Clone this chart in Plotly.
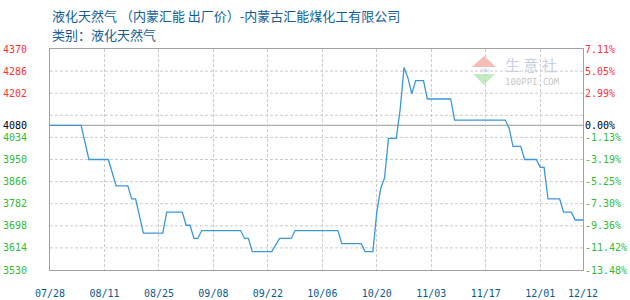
import datetime as dt
import plotly.graph_objects as go

# ---- data ----
start = dt.date(2023, 7, 28)
day_offsets = [0, 8, 10, 15, 17, 20, 21, 22, 24, 29, 30, 34, 35, 36, 37, 38, 39,
               49, 50, 51, 52, 57, 59, 62, 63, 74, 75, 80, 81, 83, 84, 85, 86, 87,
               89, 90, 91, 92, 93, 94, 96, 97, 103, 104, 117, 118, 119, 121, 122,
               125, 126, 127, 128, 131, 132, 134, 135, 137]
prices = [4080, 4080, 3950, 3950, 3850, 3850, 3800, 3800, 3670, 3670, 3750, 3750,
          3700, 3700, 3650, 3650, 3680, 3680, 3650, 3650, 3600, 3600, 3650, 3650,
          3680, 3680, 3630, 3630, 3600, 3600, 3750, 3840, 3880, 4030, 4030, 4140,
          4300, 4260, 4200, 4250, 4250, 4180, 4180, 4100, 4100, 4070, 4000, 4000,
          3950, 3950, 3920, 3920, 3800, 3800, 3750, 3750, 3720, 3720]
dates = [start + dt.timedelta(days=d) for d in day_offsets]

base_price = 4080
y_grid = [3530, 3614, 3698, 3782, 3866, 3950, 4034, 4118, 4202, 4286, 4370]
y_labels = [3530, 3614, 3698, 3782, 3866, 3950, 4034, 4080, 4202, 4286, 4370]
x_tick_offsets = [0, 14, 28, 42, 56, 70, 84, 98, 112, 126, 137]
x_ticks = [start + dt.timedelta(days=d) for d in x_tick_offsets]
x_ticktext = [d.strftime("%m/%d") for d in x_ticks]

title = "液化天然气 （内蒙汇能 出厂价）-内蒙古汇能煤化工有限公司"
subtitle = "类别：液化天然气"

RED, GREEN, BLACK = "#ff3333", "#33bb33", "#000000"


def colour(v):
    if v > base_price:
        return RED
    if v < base_price:
        return GREEN
    return BLACK


left_text = [f'<span style="color:{colour(v)}">{v}</span>' for v in y_labels]
right_text = [f'<span style="color:{colour(v)}">{(v / base_price - 1) * 100:.2f}%</span>'
              for v in y_labels]

fig = go.Figure()
fig.add_trace(go.Scatter(x=dates, y=prices, mode="lines",
                         line=dict(color="#3a98d8", width=1.3),
                         hoverinfo="skip", showlegend=False))
fig.add_trace(go.Scatter(x=dates, y=prices, mode="lines", yaxis="y2",
                         line=dict(color="rgba(0,0,0,0)", width=0),
                         hoverinfo="skip", showlegend=False))

mono = "DejaVu Sans Mono"
fig.update_layout(
    width=630, height=300,
    margin=dict(l=50, r=47, t=49, b=30, autoexpand=False),
    paper_bgcolor="white", plot_bgcolor="white",
    xaxis=dict(range=[x_ticks[0], x_ticks[-1]], tickvals=x_ticks, ticktext=x_ticktext,
               tickfont=dict(family=mono, size=10, color="#0a5a8c"),
               showgrid=True, gridcolor="#cccccc", griddash="3px,2px", gridwidth=1,
               showline=True, linecolor="#a0a0a0", linewidth=1, mirror=True,
               ticks="", ticklabelstandoff=14, zeroline=False, automargin=False),
    yaxis=dict(range=[3530, 4370], tickvals=y_labels, ticktext=left_text,
               tickfont=dict(family=mono, size=10),
               showgrid=False, showline=True, linecolor="#a0a0a0", linewidth=1,
               mirror=True, ticks="", ticklabelstandoff=20, zeroline=False,
               automargin=False),
    yaxis2=dict(range=[3530, 4370], overlaying="y", side="right",
                tickvals=y_labels, ticktext=right_text,
                tickfont=dict(family=mono, size=10),
                showgrid=False, showline=False, ticks="", ticklabelstandoff=1,
                zeroline=False, automargin=False),
)

# horizontal dashed gridlines
for v in y_grid[1:-1]:
    fig.add_shape(type="line", xref="paper", x0=0, x1=1, yref="y", y0=v, y1=v,
                  line=dict(color="#cccccc", width=1, dash="3px,2px"), layer="below")
# base price line
fig.add_shape(type="line", xref="paper", x0=0, x1=1, yref="y", y0=base_price, y1=base_price,
              line=dict(color="#999999", width=1), layer="below")

# titles
PH = 221.0
fig.add_annotation(text=title, xref="paper", yref="paper", x=0, y=1 + (49 - 15) / PH,
                   xanchor="left", yanchor="middle", showarrow=False,
                   font=dict(family="Noto Sans CJK SC", size=13, color="#135e96"))
fig.add_annotation(text=subtitle, xref="paper", yref="paper", x=0, y=1 + (49 - 34) / PH,
                   xanchor="left", yanchor="middle", showarrow=False,
                   font=dict(family="Noto Sans CJK SC", size=13, color="#135e96"))

# watermark
PW = 533.0


def px(xp):
    return (xp - 50) / PW


def py(yp):
    return (270 - yp) / PH


fig.add_shape(type="path", xref="paper", yref="paper",
              path=f"M {px(472)},{py(67)} L {px(484)},{py(56)} L {px(496)},{py(67)} Z",
              fillcolor="#f6bcb6", line=dict(width=0), layer="below")
fig.add_shape(type="path", xref="paper", yref="paper",
              path=f"M {px(473)},{py(74)} L {px(484)},{py(85)} L {px(495)},{py(74)} Z",
              fillcolor="#c4eac4", line=dict(width=0), layer="below")
fig.add_annotation(text="PPI", xref="paper", yref="paper", x=px(484), y=py(70.5),
                   xanchor="center", yanchor="middle",
                   showarrow=False, font=dict(family="DejaVu Sans", size=6, color="#c8cfe0"))
fig.add_annotation(text="生 意 社", xref="paper", yref="paper", x=px(531), y=py(64),
                   xanchor="center", yanchor="middle",
                   showarrow=False, font=dict(family="Noto Sans CJK SC", size=15, color="#c8cfe2"))
fig.add_annotation(text="100PPI.COM", xref="paper", yref="paper", x=px(532), y=py(81.5),
                   xanchor="center", yanchor="middle",
                   showarrow=False, font=dict(family=mono, size=9, color="#c8c8c8"))

fig.write_html("out.html")
